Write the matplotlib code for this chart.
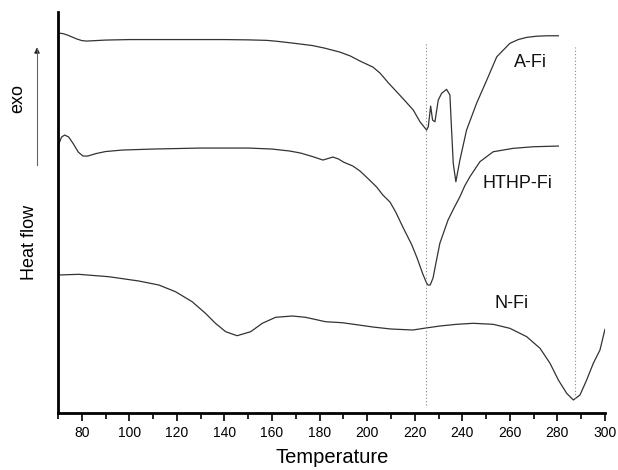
import matplotlib
matplotlib.use("Agg")
import matplotlib.pyplot as plt
from matplotlib.ticker import MultipleLocator

plt.rcParams['font.family'] = ['Liberation Sans', 'DejaVu Sans']

# DSC curves (arbitrary heat-flow units, exo up)
afi_t = [70, 72, 74, 76, 78, 80, 82, 86, 90, 100, 120, 140, 150, 157.8, 162,
         167.5, 172, 177, 182, 188.5, 193, 197, 202.4, 205.4, 209, 212.4, 216,
         219.4, 222.2, 225, 225.7, 226.7, 227.5, 228.5, 229.9, 231.3, 233.4,
         234.8, 235.5, 236.2, 237.3, 239, 241.8, 246, 250.3, 254.5, 260, 263.5,
         267.1, 271, 275.5, 280.4]
afi_q = [437, 436.5, 435, 433, 431, 429.5, 429, 429.5, 430, 430.5, 430.5, 430.5,
         430.2, 429.7, 428.8, 427.3, 426, 424.5, 422, 418, 414, 409, 403, 397,
         387, 378.3, 369, 360, 348.3, 340, 343.3, 364, 350, 348.3, 370, 376.7,
         380.7, 375, 340, 306.7, 288.3, 310, 340, 366.7, 390, 413.3, 426.7,
         430.5, 432.7, 433.8, 434.3, 434.3]

hthp_t = [70, 70.3, 71.5, 72.8, 74.5, 76.5, 78.5, 80.5, 82.5, 86, 90, 97, 110,
          130, 150, 160, 167.5, 172, 177, 181.4, 183.5, 185.6, 188, 190, 194,
          197, 201, 204, 206.6, 209.6, 212, 215, 218.8, 221, 223.4, 225, 225.6,
          226.5, 227.7, 229, 230.6, 234, 236.5, 239, 241, 243.2, 247.4, 253,
          261.4, 269.8, 280.4]
hthp_q = [314, 326, 333, 335, 333, 326, 318, 314, 314, 316.5, 318.5, 320, 321,
          322, 322, 321, 319, 317, 313.5, 310, 311.5, 313, 311, 308, 304, 299,
          290, 283, 275, 268, 258, 243, 225, 212, 196, 187, 185, 185, 192, 208,
          227, 250, 262, 273.3, 284, 293.3, 308.3, 318.3, 321.7, 323.3, 324]

nfi_t = [70, 78.7, 91.4, 104, 112.4, 119.4, 126.4, 132, 136.2, 140.5, 145.3,
         151, 155.9, 161.5, 168.5, 174.1, 182.5, 189.5, 196.5, 202.4, 210,
         219.2, 224.7, 230.6, 237.6, 244.6, 253, 260, 267.1, 272.7, 276.9,
         280.4, 283.9, 286.7, 289.5, 292.3, 295.1, 297.9, 300]
nfi_q = [195, 195.7, 193.3, 189, 185, 178.3, 168.3, 156.7, 146.7, 138.3, 134.3,
         138.3, 146.7, 152.7, 154, 152.7, 148.3, 147.3, 145, 143, 141, 140, 142,
         144, 145.7, 146.7, 145.7, 141.7, 133.3, 121.7, 106.7, 90, 76.7, 70, 75,
         90, 106.7, 120, 140.7]

labels = ['A-Fi', 'HTHP-Fi', 'N-Fi']
label_pos = [(268.5, 408), (263.4, 287), (260.9, 167)]

peak_lines = [224.6, 287.3]
peak_span = [(65, 428), (72, 423)]

fig = plt.figure(figsize=(6.18, 4.70), dpi=100)
ax = fig.add_axes([0.0939, 0.1213, 0.885, 0.853])

col = '#333333'
ax.plot(afi_t, afi_q, color=col, lw=0.9)
ax.plot(hthp_t, hthp_q, color=col, lw=0.9)
ax.plot(nfi_t, nfi_q, color=col, lw=0.9)

for x, (y0, y1) in zip(peak_lines, peak_span):
    ax.vlines(x, y0, y1, colors='#888888', linestyles=(0, (1, 2)), lw=0.8)

for lab, (x, y) in zip(labels, label_pos):
    ax.text(x, y, lab, fontsize=13, ha='center', va='center', color='#111111')

ax.set_xlim(70, 300)
ax.set_ylim(57, 458)
ax.xaxis.set_major_locator(MultipleLocator(20))
ax.xaxis.set_minor_locator(MultipleLocator(10))
ax.set_yticks([])
ax.tick_params(axis='x', which='major', length=6, width=1.2, labelsize=10, direction='out')
ax.tick_params(axis='x', which='minor', length=4, width=1.2, direction='out')
for s in ['top', 'right']:
    ax.spines[s].set_visible(False)
for s in ['left', 'bottom']:
    ax.spines[s].set_linewidth(2)

fig.text(0.537, 0.026, 'Temperature', fontsize=14.5, ha='center', va='center')
fig.text(0.0485, 0.485, 'Heat flow', fontsize=13, rotation=90, ha='center', va='center')
fig.text(0.029, 0.791, 'exo', fontsize=13, rotation=90, ha='center', va='center')
fig.add_artist(plt.Line2D([0.0599, 0.0599], [0.649, 0.895], color='#666666', lw=0.8))
ax.annotate('', xy=(0.0599, 0.905), xytext=(0.0599, 0.88), xycoords='figure fraction',
            arrowprops=dict(arrowstyle='-|>', color='#222222', lw=0.8, mutation_scale=8))

fig.savefig('out.png', dpi=100)
